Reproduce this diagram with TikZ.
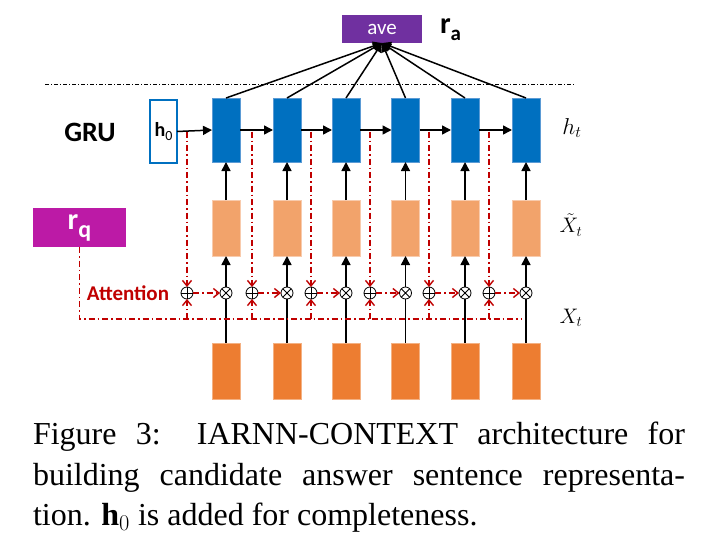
\RequirePackage{fix-cm}
\documentclass[tikz,border=0pt]{standalone}
\usepackage{fontspec}
\setmainfont{Carlito}
\newfontfamily\capfont{Liberation Serif}
\usetikzlibrary{arrows.meta}
\definecolor{gblue}{HTML}{0070C0}
\definecolor{gblueedge}{HTML}{5B9BD5}
\definecolor{lorange}{HTML}{F2A36B}
\definecolor{lorangeedge}{HTML}{F8CBAD}
\definecolor{dorange}{HTML}{ED7D31}
\definecolor{dorangeedge}{HTML}{F4B183}
\definecolor{avepurple}{HTML}{7030A0}
\definecolor{rqmag}{HTML}{BC1AA6}
\definecolor{attred}{HTML}{C00000}
\begin{document}
\begin{tikzpicture}[x=1pt,y=-1pt,
  every node/.style={inner sep=0pt, outer sep=0pt},
  hbox/.style={rectangle, fill=gblue, draw=gblueedge, line width=0.8pt, minimum width=28pt, minimum height=64pt},
  xbox/.style={rectangle, fill=lorange, draw=lorangeedge, line width=0.8pt, minimum width=28pt, minimum height=56pt},
  dbox/.style={rectangle, fill=dorange, draw=dorangeedge, line width=0.8pt, minimum width=28pt, minimum height=56pt},
  opl/.style={circle, draw=black, line width=0.8pt, minimum size=12pt, fill=white,
    path picture={\draw[line width=0.8pt] (path picture bounding box.north) -- (path picture bounding box.south)
      (path picture bounding box.west) -- (path picture bounding box.east);}},
  otm/.style={circle, draw=black, line width=0.8pt, minimum size=12pt, fill=white,
    path picture={\draw[line width=0.8pt] (path picture bounding box.north west) -- (path picture bounding box.south east)
      (path picture bounding box.south west) -- (path picture bounding box.north east);}},
  blk/.style={draw=black, line width=1.5pt},
  blkarr/.style={blk, -{Triangle[length=9pt,width=9pt]}},
  reddd/.style={draw=attred, line width=1.3pt, dash pattern=on 6pt off 3pt on 1.5pt off 3pt},
  redarr/.style={reddd, -{Straight Barb[length=5.5pt,width=9pt,line width=1.4pt]}},
]
\useasboundingbox (0,0) rectangle (715,536);
\fill[white] (0,0) rectangle (715,536);

% top separator
\draw[line width=0.9pt, dash pattern=on 4pt off 2pt on 1pt off 2pt] (45,84) -- (575,84);

% ave and r_a
\node[rectangle, fill=avepurple, minimum width=80pt, minimum height=28pt, text=white,
      font=\fontsize{21}{21}\selectfont] (ave) at (382,29) {ave};
\node[anchor=west, font=\bfseries] (ra) at (440,30)
  {{\fontsize{30}{30}\selectfont r}\raisebox{-7pt}{\fontsize{21}{21}\selectfont a}};

% GRU
\node[font=\fontsize{28}{28}\selectfont\bfseries] (gru) at (90,132) {GRU};
\node[rectangle, fill=white, draw=gblue, line width=1.6pt, minimum width=27pt, minimum height=63pt] (h0) at (163.5,131.5)
  {\fontsize{20}{20}\selectfont\textbf{h}\raisebox{-4pt}{\fontsize{14}{14}\selectfont 0}};

% r_q
\node[rectangle, fill=rqmag, minimum width=93pt, minimum height=39pt, text=white] (rq) at (79.5,227.5)
  {\bfseries{\fontsize{30}{30}\selectfont r}\raisebox{-8pt}{\fontsize{24}{24}\selectfont q}};

% Attention
\node[text=attred, font=\fontsize{21}{21}\selectfont\bfseries] (att) at (128,293) {Attention};

% columns
\foreach \i/\xc/\px in {1/226/187, 2/287/252, 3/346/311, 4/405.5/370, 5/465/429, 6/526/489} {
  \node[hbox] (h\i) at (\xc,130) {};
  \node[xbox] (x\i) at (\xc,228) {};
  \node[dbox] (d\i) at (\xc,371) {};
  \node[otm] (m\i) at (\xc,293) {};
  \node[opl] (p\i) at (\px,293) {};
}

% labels
\node[font=\fontsize{23}{23}\selectfont] (lh) at (572,128) {$h_t$};
\node[font=\fontsize{21}{21}\selectfont] (lxt) at (571,225) {$\tilde{X}_t$};
\node[font=\fontsize{21}{21}\selectfont] (lx) at (571,318) {$X_t$};

% GRU recurrence
\draw[blkarr] (h0.east) -- (h1.west);
\foreach \a/\b in {1/2,2/3,3/4,4/5,5/6} { \draw[blkarr] (h\a.east) -- (h\b.west); }

% outputs to ave
\foreach \i in {1,...,6} { \draw[blkarr] (h\i.north) -- (ave.south); }

% vertical flow
\foreach \i in {1,...,6} {
  \draw[blk] (d\i.north) -- (m\i.south);
  \draw[blkarr] (m\i.north) -- (x\i.south);
  \draw[blkarr] (x\i.north) -- (h\i.south);
}

% attention lines
\coordinate (bend) at (522,319);
\draw[reddd] (rq.south) |- (bend);
\foreach \i in {1,...,6} {
  \coordinate (t\i) at (p\i |- h0.east);
  \coordinate (b\i) at (p\i |- bend);
  \draw[redarr] (t\i) -- (p\i.north);
  \draw[redarr] (b\i) -- (p\i.south);
  \draw[redarr] (p\i.east) -- (m\i.west);
}

% caption
\node[anchor=north west, text width=652pt, align=justify,
      font=\capfont\fontsize{32}{40.5}\selectfont] (cap) at (33,422)
  {\tolerance=10000\hbadness=10000\hyphenpenalty=10000
   Figure 3:\hspace{3pt} IARNN-CONTEXT architecture for\linebreak
   building candidate answer sentence representa-\linebreak
   tion. \textbf{h}$_0$ is added for completeness.};
\end{tikzpicture}
\end{document}
